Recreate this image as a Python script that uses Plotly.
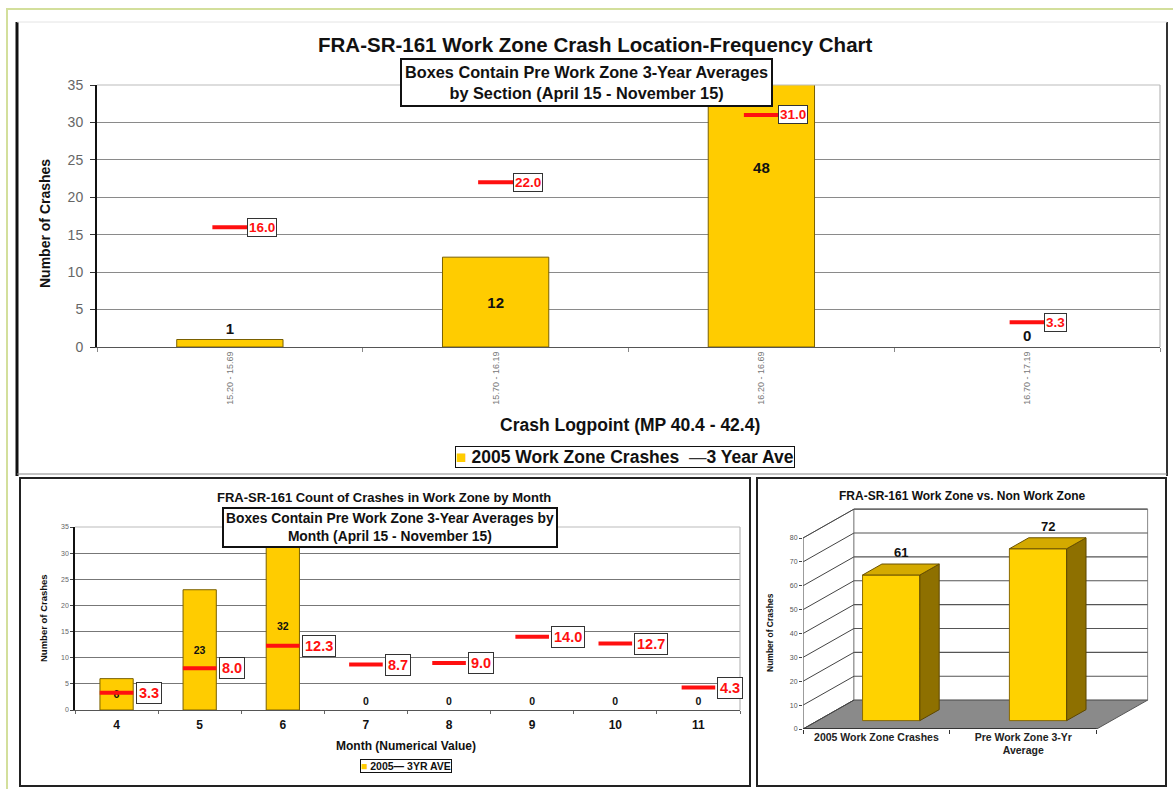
import plotly.graph_objects as go

W, H = 1173, 789
FONT = "Liberation Sans"

# ---------------- data ----------------
sections = ["15.20 - 15.69", "15.70 - 16.19", "16.20 - 16.69", "16.70 - 17.19"]
section_crashes_2005 = [1, 12, 48, 0]
section_avg_3yr = [16.0, 22.0, 31.0, 3.3]

months = ["4", "5", "6", "7", "8", "9", "10", "11"]
month_crashes_2005 = [6, 23, 32, 0, 0, 0, 0, 0]
month_avg_3yr = [3.3, 8.0, 12.3, 8.7, 9.0, 14.0, 12.7, 4.3]

compare_labels = ["2005 Work Zone Crashes", "Pre Work Zone 3-Yr<br>Average"]
compare_values = [61, 72]

y_ticks_35 = [0, 5, 10, 15, 20, 25, 30, 35]
y_ticks_80 = [0, 10, 20, 30, 40, 50, 60, 70, 80]

# ---------------- helpers ----------------
def fx(p):
    return p / W


def fy(p):
    return 1 - p / H


GOLD = "#FFCC00"
EDGE = "#7a6000"
RED = "#FF1010"


def text_pos(vals):
    return ["inside" if v >= 5 else "outside" for v in vals]


def edge_widths(vals):
    return [1 if v > 0 else 0 for v in vals]


fig = go.Figure()

# ---------------- top chart ----------------
fig.add_trace(go.Bar(
    x=sections, y=section_crashes_2005, xaxis="x", yaxis="y",
    name="2005 Work Zone Crashes", showlegend=False,
    marker=dict(color=GOLD, line=dict(color=EDGE, width=edge_widths(section_crashes_2005))), width=0.4,
    text=[str(v) for v in section_crashes_2005], textposition=text_pos(section_crashes_2005),
    insidetextanchor="middle", textangle=0, constraintext="none",
    textfont=dict(family=FONT, size=15, color="#111", weight="bold"),
))
fig.add_trace(go.Scatter(
    x=sections, y=section_avg_3yr, xaxis="x", yaxis="y", mode="markers",
    name="3 Year Ave", showlegend=False,
    marker=dict(symbol="line-ew", size=25, color=RED, line=dict(width=4, color=RED)),
))

# ---------------- bottom-left chart ----------------
fig.add_trace(go.Bar(
    x=months, y=month_crashes_2005, xaxis="x2", yaxis="y2",
    name="2005", showlegend=False,
    marker=dict(color=GOLD, line=dict(color=EDGE, width=edge_widths(month_crashes_2005))), width=0.4,
    text=[str(v) for v in month_crashes_2005], textposition=text_pos(month_crashes_2005),
    insidetextanchor="middle", textangle=0, constraintext="none",
    textfont=dict(family=FONT, size=10.5, color="#111", weight="bold"),
))
fig.add_trace(go.Scatter(
    x=months, y=month_avg_3yr, xaxis="x2", yaxis="y2", mode="markers",
    name="3YR AVE", showlegend=False,
    marker=dict(symbol="line-ew", size=24, color=RED, line=dict(width=4, color=RED)),
))

# ---------------- bottom-right pseudo 3D chart ----------------
DX, DY = 0.347, 12.1      # depth offset of the chart box (x units, y units)
F, G, BW = 0.29, 0.38, 0.39  # bar start depth, bar depth, bar width

fig.add_trace(go.Bar(
    x=[i + F * DX for i in range(len(compare_values))], y=compare_values,
    base=[F * DY] * len(compare_values), width=BW, xaxis="x3", yaxis="y3",
    marker=dict(color="#FFD200", line=dict(color="#8a6a00", width=1)), showlegend=False,
    hoverinfo="skip",
))
top_x, top_y, side_x, side_y = [], [], [], []
for i, v in enumerate(compare_values):
    x0 = i - BW / 2 + F * DX
    x1 = x0 + BW
    b = F * DY
    t = b + v
    top_x += [x0, x1, x1 + G * DX, x0 + G * DX, x0, None]
    top_y += [t, t, t + G * DY, t + G * DY, t, None]
    side_x += [x1, x1 + G * DX, x1 + G * DX, x1, x1, None]
    side_y += [b, b + G * DY, t + G * DY, t, b, None]
fig.add_trace(go.Scatter(x=side_x, y=side_y, xaxis="x3", yaxis="y3", mode="lines", fill="toself",
                         fillcolor="#8E7000", line=dict(color="#5c4600", width=1), showlegend=False,
                         hoverinfo="skip"))
fig.add_trace(go.Scatter(x=top_x, y=top_y, xaxis="x3", yaxis="y3", mode="lines", fill="toself",
                         fillcolor="#D4AA00", line=dict(color="#6b5200", width=1), showlegend=False,
                         hoverinfo="skip"))

# ---------------- shapes ----------------
shapes = []


def pline(x0, y0, x1, y1, color="#111", width=2):
    shapes.append(dict(type="line", xref="paper", yref="paper", x0=fx(x0), y0=fy(y0), x1=fx(x1), y1=fy(y1),
                       line=dict(color=color, width=width), layer="above"))


# outer green frame
shapes.append(dict(type="rect", xref="paper", yref="paper", x0=fx(7), y0=fy(9), x1=1.05, y1=-0.05,
                   line=dict(color="#d3df9c", width=2), layer="below"))
# top panel borders
pline(17, 22, 17, 476, "#111", 3)
pline(1167, 22, 1167, 476, "#333", 2)
pline(17, 22, 1167, 22, "#e4e4e4", 1)
pline(17, 474, 1167, 474, "#888", 1)
# bottom panels
shapes.append(dict(type="rect", xref="paper", yref="paper", x0=fx(20), y0=fy(478), x1=fx(750), y1=fy(786),
                   line=dict(color="#222", width=2), layer="above"))
shapes.append(dict(type="rect", xref="paper", yref="paper", x0=fx(757), y0=fy(478), x1=fx(1166), y1=fy(786),
                   line=dict(color="#222", width=2), layer="above"))
# right / top borders of flat plot areas
for xa, ya in (("x", "y"), ("x2", "y2")):
    shapes.append(dict(type="line", xref=f"{xa} domain", yref=f"{ya} domain", x0=1, x1=1, y0=0, y1=1,
                       line=dict(color="#aaa", width=1), layer="above"))
    shapes.append(dict(type="line", xref=f"{xa} domain", yref=f"{ya} domain", x0=0, x1=1, y0=1, y1=1,
                       line=dict(color="#bbb", width=1), layer="above"))


def dline(x0, y0, x1, y1, color="#555", width=1):
    shapes.append(dict(type="line", xref="x3", yref="y3", x0=x0, y0=y0, x1=x1, y1=y1,
                       line=dict(color=color, width=width), layer="below"))


ymax3 = y_ticks_80[-1]
shapes.append(dict(type="path", xref="x3", yref="y3",
                   path=f"M -0.5,0 L -0.5,{ymax3} L {-0.5 + DX},{ymax3 + DY} L {-0.5 + DX},{DY} Z",
                   fillcolor="white", line=dict(color="#888", width=1), layer="below"))
shapes.append(dict(type="rect", xref="x3", yref="y3", x0=-0.5 + DX, y0=DY, x1=1.5 + DX, y1=ymax3 + DY,
                   fillcolor="white", line=dict(color="#888", width=1), layer="below"))
shapes.append(dict(type="path", xref="x3", yref="y3",
                   path=f"M -0.5,0 L 1.5,0 L {1.5 + DX},{DY} L {-0.5 + DX},{DY} Z",
                   fillcolor="#8a8a8a", line=dict(color="#555", width=1), layer="below"))
for v in y_ticks_80:
    dline(-0.5, v, -0.5 + DX, v + DY, "#444", 1)
    if v > 0:
        dline(-0.5 + DX, v + DY, 1.5 + DX, v + DY, "#555", 1.2)
dline(-0.5, 0, -0.5, ymax3, "#777", 1)
dline(-0.5, 0, 1.5, 0, "#222", 1.5)

# ---------------- annotations ----------------
ann = []


def ptext(x, y, text, size, angle=0, color="#111"):
    ann.append(dict(x=fx(x), y=fy(y), xref="paper", yref="paper", text=text, showarrow=False,
                    xanchor="center", yanchor="middle", textangle=angle,
                    font=dict(family=FONT, size=size, color=color)))


def pbox(x, y, text, size, pad, bw=2):
    ann.append(dict(x=fx(x), y=fy(y), xref="paper", yref="paper", text=text, showarrow=False,
                    xanchor="center", yanchor="middle", bgcolor="white", bordercolor="#111",
                    borderwidth=bw, borderpad=pad, font=dict(family=FONT, size=size, color="#111")))


ptext(595, 44, "<b>FRA-SR-161 Work Zone Crash Location-Frequency Chart</b>", 20.5)
pbox(586, 82, "<b>Boxes Contain Pre Work Zone 3-Year Averages<br>by Section (April 15 - November 15)</b>", 16.3, 3)
ptext(45, 224, "<b>Number of Crashes</b>", 14, -90)
ptext(630, 425, "<b>Crash Logpoint (MP 40.4 - 42.4)</b>", 17.5)
# legend box (top chart)
pbox(625, 457, f"<span style='color:{GOLD}'>■</span>\u00a0<b>2005 Work Zone Crashes</b>\u00a0\u00a0"
               "<span style='color:#333'>—</span><b>3 Year Ave</b>", 17.5, 0, 1)

ptext(384, 497, "<b>FRA-SR-161 Count of Crashes in Work Zone by Month</b>", 13)
pbox(390, 527, "<b>Boxes Contain Pre Work Zone 3-Year Averages by<br>Month (April 15 - November 15)</b>", 13.8, 2)
ptext(43, 618, "<b>Number of Crashes</b>", 9.5, -90)
ptext(406, 746, "<b>Month (Numerical Value)</b>", 12)
pbox(406, 766, f"<span style='color:{GOLD}'>■</span><b>\u00a02005—\u00a03YR AVE</b>", 10.5, 0, 1)

ptext(962, 496, "<b>FRA-SR-161 Work Zone vs. Non Work Zone</b>", 12)
ptext(770, 633, "<b>Number of Crashes</b>", 8.5, -90)

for i, v in enumerate(section_avg_3yr):
    ann.append(dict(x=i, y=v, xref="x", yref="y", text=f"<b>{v:.1f}</b>", showarrow=False,
                    xanchor="left", yanchor="middle", xshift=17, bgcolor="white", bordercolor="#333",
                    borderwidth=1, borderpad=1, font=dict(family=FONT, size=13.5, color=RED)))
for i, v in enumerate(month_avg_3yr):
    ann.append(dict(x=i, y=v, xref="x2", yref="y2", text=f"<b>{v:.1f}</b>", showarrow=False,
                    xanchor="left", yanchor="middle", xshift=19, bgcolor="white", bordercolor="#333",
                    borderwidth=1, borderpad=2, font=dict(family=FONT, size=14.5, color=RED)))
for i, v in enumerate(compare_values):
    ann.append(dict(x=i + F * DX + G * DX / 2, y=v + (F + G) * DY, xref="x3", yref="y3",
                    text=f"<b>{v}</b>", showarrow=False, xanchor="center", yanchor="bottom", yshift=2,
                    font=dict(family=FONT, size=13, color="#111")))

# ---------------- layout ----------------
fig.update_layout(
    width=W, height=H, margin=dict(l=0, r=0, t=0, b=0, autoexpand=False),
    paper_bgcolor="white", plot_bgcolor="white",
    font=dict(family=FONT, color="#111"),
    shapes=shapes, annotations=ann, showlegend=False,
    xaxis=dict(domain=[fx(97), fx(1160)], anchor="y", type="category", categoryorder="array",
               categoryarray=sections, range=[-0.5, len(sections) - 0.5], automargin=False,
               tickangle=-90, tickfont=dict(size=9, color="#777"),
               ticks="outside", tickson="boundaries", ticklen=4, tickcolor="#888",
               showline=True, linecolor="#555", linewidth=1, showgrid=False, zeroline=False),
    yaxis=dict(domain=[fy(347), fy(85)], anchor="x", range=[0, 35], tickvals=y_ticks_35, automargin=False,
               tickfont=dict(size=14, color="#666"), ticks="outside", ticklen=5, tickcolor="#333",
               ticklabelstandoff=4, showline=True, linecolor="#111", linewidth=2,
               gridcolor="#8a8a8a", gridwidth=1, zeroline=False),
    xaxis2=dict(domain=[fx(75), fx(740)], anchor="y2", type="category", categoryorder="array",
                categoryarray=months, range=[-0.5, len(months) - 0.5], automargin=False,
                tickfont=dict(size=12, color="#111", weight="bold"),
                ticks="outside", tickson="boundaries", ticklen=3, tickcolor="#666",
                ticklabelstandoff=4, showline=True, linecolor="#555", linewidth=1,
                showgrid=False, zeroline=False),
    yaxis2=dict(domain=[fy(710), fy(527)], anchor="x2", range=[0, 35], tickvals=y_ticks_35, automargin=False,
                tickfont=dict(size=7, color="#666"), ticks="outside", ticklen=3, tickcolor="#444",
                showline=True, linecolor="#111", linewidth=1.5, gridcolor="#777", gridwidth=1,
                zeroline=False),
    xaxis3=dict(domain=[fx(803), fx(1151)], anchor="y3", range=[-0.5, 1.5 + DX + 0.023], automargin=False,
                tickvals=list(range(len(compare_labels))), ticktext=compare_labels,
                tickfont=dict(size=10.5, color="#222", weight="bold"), ticks="",
                minor=dict(tickmode="array", tickvals=[-0.5, 0.5, 1.5], ticks="outside", ticklen=4,
                           tickcolor="#333", showgrid=False),
                showgrid=False, zeroline=False, showline=False),
    yaxis3=dict(domain=[fy(729), fy(507)], anchor="x3", range=[0, ymax3 + DY + 0.9], automargin=False,
                tickvals=y_ticks_80, tickfont=dict(size=7, color="#555"), ticks="outside",
                ticklen=3, tickcolor="#444", showgrid=False, zeroline=False, showline=False),
)

fig.write_html("out.html", config={"displayModeBar": False},
               post_script="document.body.style.margin='0px';document.body.style.overflow='hidden';")
